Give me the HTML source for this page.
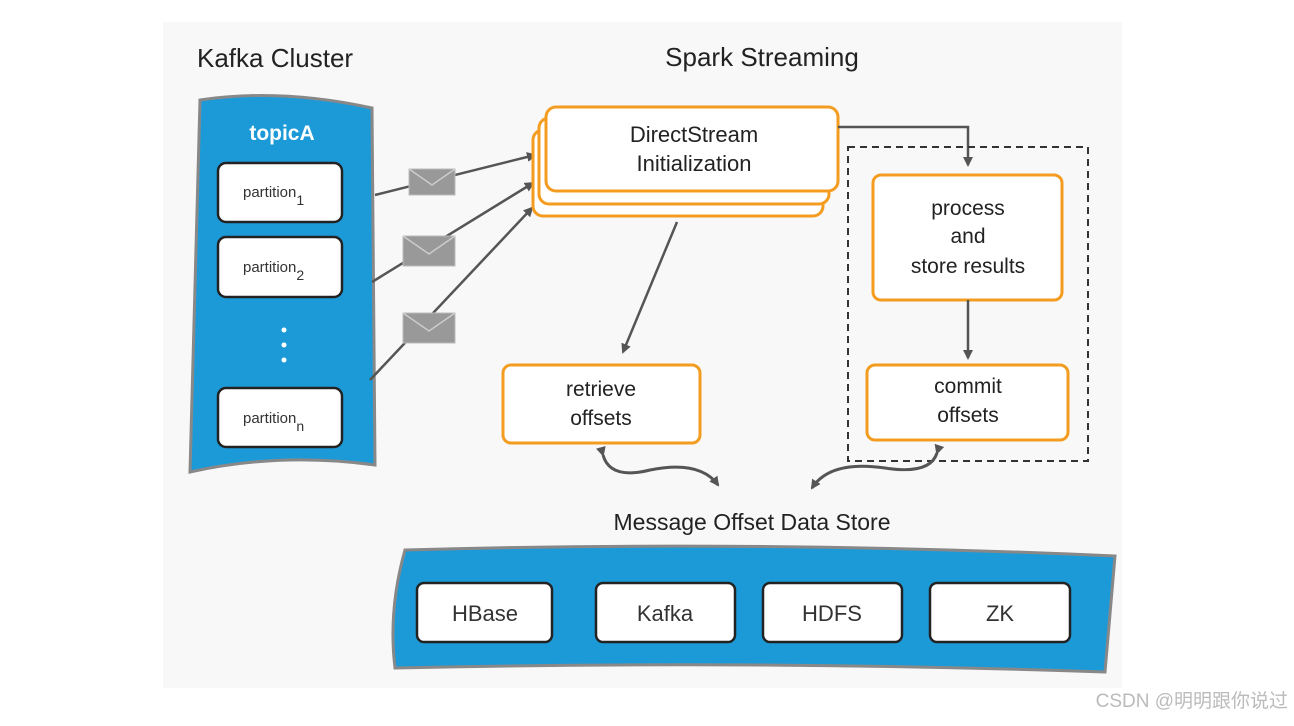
<!DOCTYPE html>
<html><head><meta charset="utf-8"><style>
body{margin:0;background:#fff;width:1294px;height:721px;overflow:hidden}
text{font-family:"Liberation Sans",sans-serif}
</style></head><body>
<svg width="1294" height="721" viewBox="0 0 1294 721" xmlns="http://www.w3.org/2000/svg">
<defs>
<marker id="ah" markerWidth="10" markerHeight="10" refX="8" refY="5" orient="auto" markerUnits="userSpaceOnUse"><path d="M0,0 L10,5 L0,10 z" fill="#555"/></marker>
</defs>
<rect x="163" y="22" width="959" height="666" fill="#f8f8f8"/>
<text x="197" y="67" font-size="26" fill="#222">Kafka Cluster</text>
<text x="762" y="66" font-size="26" fill="#222" text-anchor="middle">Spark Streaming</text>
<!-- kafka panel -->
<path d="M200,100 Q280,88 372,108 L375,465 Q280,452 190,472 Z" fill="#1c9ad8" stroke="#888" stroke-width="3"/>
<text x="282" y="140" font-size="21" fill="#fff" font-weight="bold" text-anchor="middle">topicA</text>
<g stroke="#222" stroke-width="2.5" fill="#fff">
<rect x="218" y="163" width="124" height="59" rx="8"/>
<rect x="218" y="237" width="124" height="60" rx="8"/>
<rect x="218" y="388" width="124" height="59" rx="8"/>
</g>
<g font-size="15" fill="#333"><text x="243" y="197">partition<tspan font-size="14" dy="8">1</tspan></text>
<text x="243" y="272">partition<tspan font-size="14" dy="8">2</tspan></text>
<text x="243" y="423">partition<tspan font-size="14" dy="8">n</tspan></text></g>
<g fill="#fff"><circle cx="284" cy="330" r="2.5"/><circle cx="284" cy="345" r="2.5"/><circle cx="284" cy="360" r="2.5"/></g>
<!-- arrows from partitions -->
<g stroke="#555" stroke-width="2.5" fill="none" marker-end="url(#ah)">
<line x1="375" y1="195" x2="535" y2="155"/>
<line x1="372" y1="282" x2="533" y2="183"/>
<line x1="370" y1="380" x2="532" y2="208"/>
</g>
<g fill="#999" stroke="#bbb" stroke-width="1">
<rect x="409" y="169" width="46" height="26"/><rect x="403" y="236" width="52" height="30"/><rect x="403" y="313" width="52" height="30"/>
</g>
<g stroke="#ccc" stroke-width="1.5" fill="none"><path d="M409,169 L432,185 L455,169"/><path d="M403,236 L429,254 L455,236"/><path d="M403,313 L429,331 L455,313"/></g>
<!-- direct stream stack -->
<g stroke="#f39c1f" stroke-width="3" fill="#fff">
<rect x="533" y="130" width="290" height="86" rx="10"/>
<rect x="539" y="118" width="290" height="86" rx="10"/>
<rect x="546" y="107" width="292" height="84" rx="10"/>
</g>
<text x="694" y="142" font-size="22" fill="#222" text-anchor="middle">DirectStream</text>
<text x="694" y="171" font-size="22" fill="#222" text-anchor="middle">Initialization</text>
<polyline points="838,127 968,127 968,165" stroke="#555" stroke-width="2.5" fill="none" marker-end="url(#ah)"/>
<line x1="677" y1="222" x2="623" y2="352" stroke="#555" stroke-width="2.5" marker-end="url(#ah)"/>
<rect x="848" y="147" width="240" height="314" fill="none" stroke="#333" stroke-width="2" stroke-dasharray="7,5"/>
<g stroke="#f39c1f" stroke-width="3" fill="#fff">
<rect x="873" y="175" width="189" height="125" rx="8"/>
<rect x="867" y="365" width="201" height="75" rx="8"/>
<rect x="503" y="365" width="197" height="78" rx="8"/>
</g>
<g font-size="21" fill="#222" text-anchor="middle">
<text x="968" y="215">process</text><text x="968" y="243">and</text><text x="968" y="273">store results</text>
<text x="968" y="393">commit</text><text x="968" y="422">offsets</text>
<text x="601" y="396">retrieve</text><text x="601" y="425">offsets</text>
</g>
<line x1="968" y1="300" x2="968" y2="358" stroke="#555" stroke-width="2.5" marker-end="url(#ah)"/>
<!-- wavy arrows -->
<g stroke="#555" stroke-width="3" fill="none">
<path d="M603,455 Q610,480 650,470 Q700,460 718,485" marker-end="url(#ah)" marker-start="url(#ah)"/>
<path d="M937,453 Q930,475 885,468 Q830,460 812,488" marker-end="url(#ah)" marker-start="url(#ah)"/>
</g>
<text x="752" y="530" font-size="23" fill="#222" text-anchor="middle">Message Offset Data Store</text>
<path d="M405,550 Q760,540 1115,556 L1105,672 Q760,660 395,668 Q388,610 405,550 Z" fill="#1c9ad8" stroke="#888" stroke-width="3"/>
<g stroke="#222" stroke-width="2.5" fill="#fff">
<rect x="417" y="583" width="135" height="59" rx="7"/>
<rect x="596" y="583" width="139" height="59" rx="7"/>
<rect x="763" y="583" width="139" height="59" rx="7"/>
<rect x="930" y="583" width="140" height="59" rx="7"/>
</g>
<g font-size="22" fill="#333" text-anchor="middle">
<text x="485" y="621">HBase</text><text x="665" y="621">Kafka</text><text x="832" y="621">HDFS</text><text x="1000" y="621">ZK</text>
</g>
<text x="1288" y="707" font-size="19" fill="#bbb" text-anchor="end" font-family="Liberation Sans, Noto Sans CJK SC, sans-serif">CSDN @明明跟你说过</text>
</svg>
</body></html>
